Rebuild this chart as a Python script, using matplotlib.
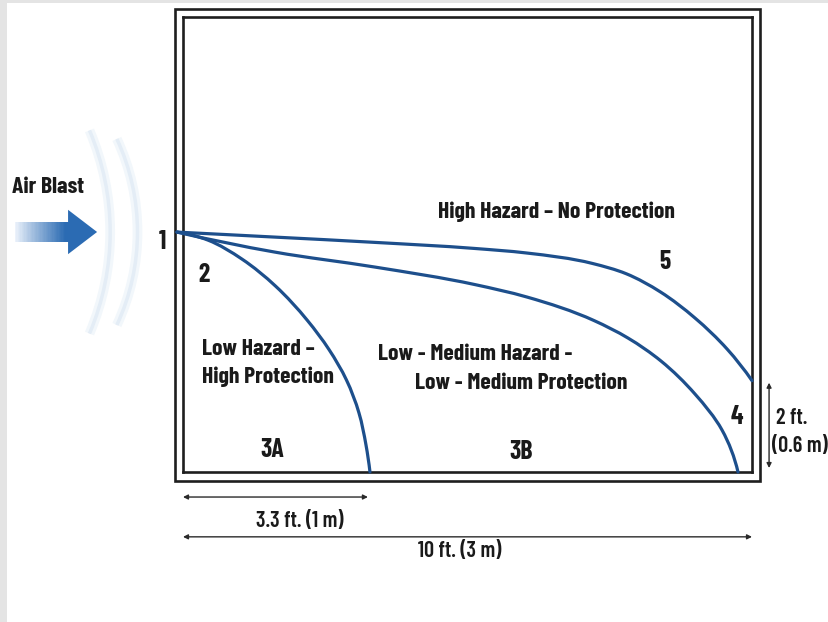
import matplotlib
matplotlib.use('Agg')
import matplotlib.pyplot as plt
from matplotlib.patches import Rectangle, Polygon, Arc, PathPatch
from matplotlib.path import Path
import numpy as np

plt.rcParams['font.family'] = ['Barlow Condensed', 'DejaVu Sans']

# ---------------- data (room units: interior is 10 wide, 8 high) ----------------
room_w = 10.0
room_h = 8.0

# boundary "Low Hazard - High Protection" (zone 3A)
low_x = [-0.105, 0.439, 1.037, 1.626, 2.188, 2.566, 2.873, 3.093, 3.216, 3.286]
low_y = [4.218, 4.077, 3.743, 3.269, 2.663, 2.153, 1.617, 1.037, 0.475, 0.000]

# boundary "Low - Medium Hazard" (zone 3B)
med_x = [-0.105, 1.617, 3.374, 5.132, 6.046, 7.223, 7.821, 8.401, 8.998, 9.473, 9.754]
med_y = [4.218, 3.866, 3.603, 3.295, 3.076, 2.663, 2.355, 1.951, 1.371, 0.738, 0.000]

# boundary "High Hazard - No Protection"
high_x = [-0.105, 1.617, 3.374, 5.132, 6.035, 7.199, 7.787, 8.392, 8.995, 9.564, 10.000]
high_y = [4.218, 4.130, 4.037, 3.930, 3.851, 3.666, 3.487, 3.165, 2.710, 2.160, 1.606]

point_labels = ['1', '2', '5', '4', '3A', '3B']
zone_texts = ['High Hazard \u2013 No Protection',
              'Low Hazard \u2013', 'High Protection',
              'Low - Medium Hazard -', 'Low - Medium Protection']
dim_labels = ['3.3 ft. (1 m)', '10 ft. (3 m)', '2 ft.', '(0.6 m)']
dim_short = 3.25
dim_long = 10.0
dim_height = 1.5
blast_label = 'Air Blast'


def smooth_path(xs, ys):
    """Cubic Bezier path through the points, chord-length (Bessel) tangents."""
    p = np.column_stack([xs, ys]).astype(float)
    seg = np.diff(p, axis=0)
    d = np.hypot(seg[:, 0], seg[:, 1])
    u = seg / d[:, None]
    n = len(p)
    T = np.zeros_like(p)
    for i in range(1, n - 1):
        T[i] = (d[i] * u[i - 1] + d[i - 1] * u[i]) / (d[i - 1] + d[i])
    T[0] = 2 * u[0] - T[1]
    T[-1] = 2 * u[-1] - T[-2]
    verts = [tuple(p[0])]
    codes = [Path.MOVETO]
    for k in range(n - 1):
        verts += [tuple(p[k] + T[k] * d[k] / 3),
                  tuple(p[k + 1] - T[k + 1] * d[k] / 3),
                  tuple(p[k + 1])]
        codes += [Path.CURVE4] * 3
    return Path(verts, codes)


# ---------------- figure ----------------
W, H = 829, 622
fig = plt.figure(figsize=(W / 100, H / 100), dpi=100)
fig.patch.set_facecolor('white')
fig.patches.append(Rectangle((0, 0), 7 / W, 1, transform=fig.transFigure,
                             facecolor='#e4e4e4', edgecolor='none'))
fig.patches.append(Rectangle((0, 1 - 3 / H), 1, 3 / H, transform=fig.transFigure,
                             facecolor='#e4e4e4', edgecolor='none'))

ax = fig.add_axes([183 / W, (H - 472) / H, 569 / W, 455 / H])
ax.set_xlim(0, room_w)
ax.set_ylim(0, room_h)
ax.set_xticks([])
ax.set_yticks([])
for s in ax.spines.values():
    s.set_linewidth(1.9)
    s.set_color('#1e1e1e')
ax.set_facecolor('none')

ax.add_patch(Rectangle((-0.14, -0.16), room_w + 0.28, room_h + 0.30,
                       fill=False, lw=1.9, edgecolor='#1e1e1e', clip_on=False))

blue = '#1d4f8c'
for xs, ys in [(low_x, low_y), (med_x, med_y), (high_x, high_y)]:
    ax.add_patch(PathPatch(smooth_path(xs, ys), facecolor='none', edgecolor=blue,
                           lw=2.3, capstyle='round', joinstyle='round',
                           clip_on=False, zorder=3))

tk = dict(color='#1a1a1a', fontweight='bold', fontsize=17, clip_on=False)
nk = dict(tk, fontsize=18.5)
ax.text(-0.37, 4.04, point_labels[0], ha='center', va='center', **nk)
ax.text(0.37, 3.46, point_labels[1], ha='center', va='center', **nk)
ax.text(8.47, 3.69, point_labels[2], ha='center', va='center', **nk)
ax.text(9.74, 0.97, point_labels[3], ha='center', va='center', **nk)
ax.text(1.56, 0.39, point_labels[4], ha='center', va='center', **nk)
ax.text(5.94, 0.35, point_labels[5], ha='center', va='center', **nk)

ax.text(6.57, 4.57, zone_texts[0], ha='center', va='center', **tk)
ax.text(0.33, 2.16, zone_texts[1], ha='left', va='center', **tk)
ax.text(0.33, 1.67, zone_texts[2], ha='left', va='center', **tk)
ax.text(3.43, 2.07, zone_texts[3], ha='left', va='center', **tk)
ax.text(4.08, 1.56, zone_texts[4], ha='left', va='center', **tk)

ap = dict(arrowstyle='<|-|>', color='#2a2a2a', lw=1.0,
          mutation_scale=7, shrinkA=0, shrinkB=0)
ax.annotate('', xy=(0, -0.44), xytext=(dim_short, -0.44),
            arrowprops=ap, annotation_clip=False)
ax.annotate('', xy=(0, -1.14), xytext=(dim_long, -1.14),
            arrowprops=ap, annotation_clip=False)
ax.annotate('', xy=(10.30, 0.07), xytext=(10.30, 0.07 + dim_height),
            arrowprops=ap, annotation_clip=False)
dk = dict(color='#1a1a1a', fontweight='semibold', fontsize=16, clip_on=False)
ax.text(2.06, -0.86, dim_labels[0], ha='center', va='center', **dk)
ax.text(4.87, -1.39, dim_labels[1], ha='center', va='center', **dk)
ax.text(10.42, 0.95, dim_labels[2], ha='left', va='center', **dk)
ax.text(10.35, 0.46, dim_labels[3], ha='left', va='center', **dk)

ax.text(-3.01, 5.01, blast_label, ha='left', va='center', **tk)

# faint shock arcs
for cx, r, ang in [(-5.85, 4.57, 23), (-4.67, 3.87, 25)]:
    for lw, col in [(7, '#f2f7fb'), (2.5, '#e4edf6')]:
        ax.add_patch(Arc((cx, 4.22), 2 * r, 2 * r, theta1=-ang, theta2=ang,
                         lw=lw, color=col, clip_on=False, zorder=1))

# gradient blast arrow
x_start, x_head, x_tip = -2.95, -2.02, -1.51
y_mid = 4.22
shaft_half, head_half = 0.175, 0.39
c0 = np.array([0.94, 0.96, 0.99])
c1 = np.array([0.17, 0.42, 0.70])
n = 40
edges = np.linspace(x_start, x_head, n + 1)
for i in range(n):
    t = (i + 0.5) / n
    col = c0 + (c1 - c0) * min(1.0, t ** 0.9 * 1.05)
    ax.add_patch(Rectangle((edges[i], y_mid - shaft_half), edges[i + 1] - edges[i] + 0.01,
                           2 * shaft_half, facecolor=col, edgecolor='none',
                           clip_on=False, zorder=2))
ax.add_patch(Polygon([(x_head, y_mid + head_half), (x_tip, y_mid),
                      (x_head, y_mid - head_half)], closed=True,
                     facecolor=c1, edgecolor='none', clip_on=False, zorder=2))

fig.savefig('out.png', dpi=100, facecolor='white')
